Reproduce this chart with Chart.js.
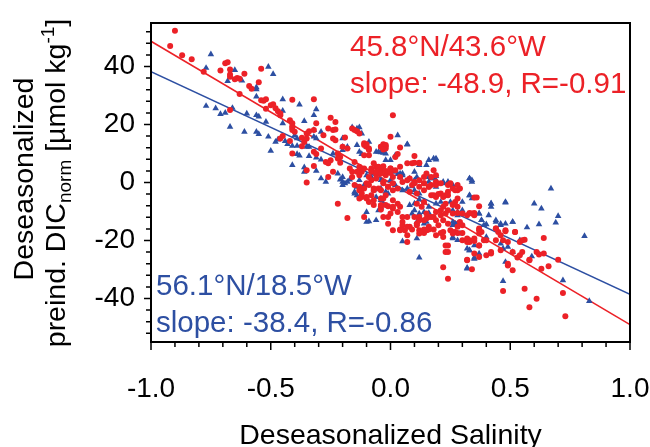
<!DOCTYPE html>
<html>
<head>
<meta charset="utf-8">
<script src="https://cdn.jsdelivr.net/npm/chart.js@4.4.1/dist/chart.umd.min.js"></script>
<style>
  body { margin: 0; background: #fff; overflow: hidden; }
  canvas { display: block; }
</style>
</head>
<body>
<canvas id="salChart" width="650" height="447"></canvas>
<script>
// values: [salinity anomaly, DIC anomaly]
const redPoints = [
  [-0.90,52.3],[-0.92,47.1],[-0.87,43.9],[-0.83,42.5],[-0.78,38.2],[-0.69,41.1],[-0.68,41.5],[-0.71,38.6],
  [-0.67,39.0],[-0.67,37.2],[-0.67,36.5],[-0.64,36.0],[-0.65,35.6],[-0.63,35.8],[-0.61,37.5],[-0.63,30.5],
  [-0.59,33.3],[-0.58,32.3],[-0.54,39.2],[-0.55,34.6],[-0.54,28.4],[-0.53,28.2],[-0.52,28.7],[-0.52,25.4],
  [-0.50,26.6],[-0.49,27.0],[-0.48,25.6],[-0.47,24.6],[-0.46,23.2],[-0.46,23.8],[-0.67,25.0],[-0.41,28.5],
  [-0.42,21.5],[-0.41,20.4],[-0.41,19.4],[-0.41,18.8],[-0.40,17.5],[-0.41,18.1],[-0.45,16.0],[-0.46,15.2],
  [-0.42,14.3],[-0.37,15.4],[-0.36,14.0],[-0.35,16.9],[-0.34,17.7],[-0.35,15.2],[-0.32,28.7],[-0.31,20.4],
  [-0.41,10.0],[-0.37,12.5],[-0.32,10.6],[-0.31,9.8],[-0.32,5.7],
  [0.01,23.2],[-0.25,22.3],[-0.23,20.9],[-0.32,18.1],[-0.28,16.3],[-0.26,18.6],[-0.24,18.1],[-0.23,18.3],
  [-0.24,15.2],[-0.23,14.6],[-0.19,15.5],[-0.16,18.6],[-0.15,18.1],[-0.14,17.7],[-0.13,16.9],[-0.20,12.3],
  [-0.18,11.7],[-0.11,13.5],[-0.10,12.3],[-0.09,11.7],[-0.04,12.3],[-0.03,13.2],[-0.02,11.7],[-0.02,12.5],
  [0.00,15.8],[0.02,8.8],[0.03,9.8],[0.07,6.6],[0.10,6.8],[0.12,6.8],[0.18,4.2],[0.00,4.8],[0.02,4.2],
  [-0.08,4.8],[-0.06,5.4],[-0.13,4.2],[-0.11,4.8],[-0.17,4.8],[-0.24,3.7],[-0.25,7.7],[-0.35,4.2],
  [-0.27,7.1],[-0.26,6.6],[-0.22,10.0],[-0.21,8.8],[-0.29,11.7],[0.10,9.1],
  [-0.35,0.0],[-0.26,1.9],[-0.22,-7.3],[-0.18,-12.2],[-0.16,1.9],[-0.13,2.5],[-0.12,3.7],[-0.09,1.9],
  [-0.08,3.7],[-0.06,2.9],[-0.04,4.2],[-0.02,2.5],[0.00,3.3],[0.01,1.9],
  [-0.15,-0.9],[-0.13,-1.5],[-0.13,-2.7],[-0.11,-2.1],[-0.10,-0.3],[-0.09,-0.9],[-0.07,-2.7],[-0.05,-2.1],
  [-0.03,-0.3],[-0.01,-1.5],[0.01,-2.7],[0.03,-2.1],
  [-0.12,-5.0],[-0.10,-5.5],[-0.08,-4.4],[-0.07,-6.1],[-0.04,-5.5],[-0.02,-4.4],[0.01,-6.1],
  [-0.04,-8.2],[-0.01,-8.2],[0.03,-7.3],[0.04,-8.4],
  [0.05,-11.9],[0.07,-11.9],[0.10,-11.9],[0.12,-11.9],[0.16,-11.9],
  [0.04,-16.2],[0.07,-20.5],[0.08,-15.3],[0.12,-16.5],[0.15,-16.5],[0.16,-15.3],[0.18,-16.2],
  [0.07,0.8],[0.09,-0.9],[0.10,0.2],[0.12,0.8],[0.14,-0.3],[0.16,-1.5],[0.17,-0.9],[0.19,0.2],[0.21,-0.3],
  [0.24,-0.9],[0.26,-2.1],[0.28,-2.7],[0.29,-2.1],
  [0.17,-4.4],[0.19,-5.0],[0.21,-3.8],[0.23,-4.4],[0.24,-3.2],
  [0.11,-7.3],[0.13,-8.4],[0.14,-6.7],
  [0.22,-8.4],[0.24,-9.6],[0.26,-7.5],[0.28,-8.4],[0.27,-6.7],
  [0.21,-9.6],[0.22,-13.0],[0.24,-14.2],[0.25,-16.5],[0.26,-17.6],[0.27,-17.1],[0.28,-17.4],[0.30,-17.4],
  [0.32,-11.3],[0.34,-10.7],[0.35,-10.5],[0.37,-8.2],[0.36,-5.2],[0.29,-13.6],
  [0.22,-18.8],[0.24,-21.7],[0.24,-24.0],[0.22,-29.2],[0.24,-33.2],
  [0.30,-19.9],[0.32,-20.5],[0.33,-19.9],[0.35,-19.3],[0.37,-16.5],[0.38,-17.1],[0.39,-19.9],[0.37,-21.7],
  [0.35,-24.5],[0.32,-26.6],[0.34,-29.9],
  [0.40,-25.1],[0.42,-24.5],
  [0.44,-15.9],[0.45,-17.1],[0.48,-16.8],[0.52,-17.1],
  [0.44,-19.9],[0.46,-23.4],[0.47,-19.9],[0.51,-24.0],[0.55,-24.0],[0.54,-20.5],[0.56,-19.7],
  [0.49,-28.6],[0.51,-30.3],[0.47,-37.4],
  [0.53,-25.9],[0.58,-26.6],[0.61,-24.0],[0.62,-24.8],[0.64,-24.5],[0.64,-19.1],[0.70,-26.6],[0.66,-28.9],
  [0.63,-29.7],
  [0.56,-36.6],[0.61,-40.1],[0.58,-43.0],[0.72,-38.1],[0.73,-46.1],
  [0.11,-14.2],[0.14,-13.0],[-0.11,-11.9],[-0.09,-6.7],[-0.07,-7.8],[-0.04,-9.3],
  [0.00,-10.7],[0.01,-9.0],[-0.03,-11.9],[-0.01,-14.2],[0.05,-14.7],[0.01,-16.5],[0.06,-16.5],[0.09,-16.2],
  [0.07,-18.2],[0.12,-17.6],[0.14,-17.4],[0.19,-18.2],[0.21,-17.4],
  [0.17,-11.9],[0.19,-13.0],[0.26,-10.7],[0.28,-10.5],
  // dense centre, second pass
  [-0.11,12.9],[-0.10,13.2],[-0.04,12.3],[-0.02,12.9],[-0.03,11.4],[0.04,12.1],[-0.11,9.4],[-0.09,11.2],
  [-0.09,9.4],[-0.22,8.3],[-0.21,6.8],[-0.15,7.1],[-0.13,5.4],[-0.16,3.7],[-0.14,3.7],[-0.07,6.6],
  [-0.05,5.4],[-0.03,5.6],[-0.06,3.7],[-0.04,3.1],[-0.02,4.0],[0.00,4.8],[-0.08,0.8],[-0.06,1.4],
  [-0.03,0.2],[-0.07,-2.1],[-0.04,-2.7],[-0.01,-1.5],[0.01,-0.3],[-0.12,-3.8],[-0.10,-5.0],[-0.13,-5.5],
  [-0.03,-5.5],[-0.02,-7.8],[0.01,-8.4],[0.04,1.9],[0.05,0.2],[0.08,1.4],[0.10,-0.3],[0.12,-1.5],
  [0.14,-0.3],[0.08,-3.2],[0.11,-3.8],[0.14,-2.7],[0.16,-1.5],[0.19,-0.9],[0.09,6.6],[0.12,6.6],
  [0.04,5.4],[-0.04,-7.8],[0.03,-10.2],[0.05,-13.6],[0.07,-15.3],[0.04,-16.5],[0.11,-14.7],[0.12,-13.0],
  [0.14,-16.2],[0.16,-16.2],[0.15,-12.4],[0.19,-10.2],[-0.01,-11.9],
  [0.14,1.9],[0.15,3.1],[0.17,1.9],[0.19,2.5],[0.25,-0.3],[0.28,-0.9],[0.27,-2.7],[0.18,-4.4],
  [0.20,-4.0],[0.22,-5.0],[0.24,-4.4],[0.28,-5.5],[0.35,-5.2],[0.23,-7.3],[0.26,-7.8],[0.15,-10.7],
  [0.18,-11.9],[0.21,-11.3],[0.23,-10.7],[0.30,-10.7],[0.33,-10.5],[0.35,-11.3],[0.15,-16.5],[0.20,-14.7],
  [0.22,-17.1],[0.26,-17.1],[0.28,-15.3],[0.30,-14.7],[0.32,-19.3],[0.33,-20.5],[0.35,-20.2],[0.37,-17.6],
  [0.37,-15.9],[0.37,-21.7],[0.40,-19.9],[0.42,-24.0],[0.44,-15.9],[0.46,-18.2],[0.48,-16.5],[0.23,-21.7],
  [0.23,-24.0],[0.32,-26.8],[0.37,-25.7],[0.49,-20.5],[0.52,-17.1],[0.49,-28.0],[0.54,-25.1],[0.55,-19.9],
  [0.58,-26.8]
];

const bluePoints = [
  [-0.75,44.2],[-0.77,39.5],[-0.77,26.4],[-0.73,25.6],[-0.71,23.6],[-0.69,24.0],[-0.68,35.0],[-0.66,25.7],
  [-0.67,19.2],[-0.65,38.8],[-0.62,35.1],[-0.61,17.5],[-0.60,23.8],[-0.56,32.8],[-0.56,32.1],[-0.56,29.6],
  [-0.56,23.2],[-0.55,22.7],[-0.56,17.5],[-0.55,16.7],[-0.52,20.9],[-0.51,39.9],[-0.49,37.4],[-0.51,15.8],
  [-0.50,10.9],[-0.48,14.0],[-0.47,14.8],[-0.45,28.7],[-0.45,24.7],[-0.44,14.3],[-0.43,13.2],[-0.45,20.4],
  [-0.38,26.9],[-0.36,21.2],[-0.40,16.3],[-0.39,15.2],[-0.41,12.6],[-0.39,12.6],[-0.41,6.0],[-0.36,5.2],
  [-0.39,9.8],[-0.38,9.3],[-0.34,9.1],[-0.34,12.3],[-0.31,4.0],[-0.32,18.1],[-0.31,25.2],[-0.31,8.6],
  [-0.32,23.2],[-0.32,15.8],[-0.31,15.2],[-0.29,17.5],[-0.35,12.3],[-0.20,15.2],[-0.18,12.3],[-0.16,19.0],
  [-0.14,18.6],[-0.13,19.0],[-0.12,16.9],[-0.09,14.0],[-0.13,10.6],[-0.12,9.8],[-0.06,10.6],[-0.04,10.4],
  [-0.03,10.2],[-0.02,7.7],[0.03,16.3],[0.07,13.1],[0.12,6.0],[0.15,6.0],[0.18,8.3],[0.19,7.9],[0.04,3.1],
  [0.10,3.7],[0.33,1.4],[-0.20,11.2],[-0.24,10.0],[-0.29,7.9],[-0.36,3.7],
  [-0.29,1.4],[-0.27,0.2],[-0.21,1.0],[-0.20,0.2],[-0.19,-0.3],[-0.20,-0.9],[-0.15,-3.8],[-0.14,-4.4],
  [-0.10,-10.2],[-0.09,-13.4],[-0.05,-9.6],[-0.04,-8.4],[-0.04,-6.1],[-0.03,-7.3],[-0.07,-2.7],[-0.04,-2.1],
  [-0.02,-3.2],[-0.01,-3.8],[0.01,3.7],[0.03,2.9],[0.04,1.9],[0.05,2.5],[0.08,1.4],[0.10,0.2],[0.07,-2.1],
  [0.09,-1.3],[0.10,-2.7],[0.12,-3.8],[0.10,-7.3],[0.12,-5.9],[0.14,-6.7],[0.09,-10.7],[0.11,-13.6],
  [0.14,-14.2],[0.05,-20.3],[0.11,-19.3],[0.12,-25.9],[0.17,1.4],[0.19,0.8],[0.19,2.2],[0.19,-7.3],
  [0.21,-6.7],[0.25,-6.7],[0.22,-0.3],[0.24,0.2],[0.26,-0.9],[0.26,-9.6],[0.28,-11.3],[0.27,-14.2],
  [0.26,-18.8],[0.29,-17.6],[0.34,0.8],[0.33,-4.4],[0.34,-5.5],[0.30,-10.2],[0.32,-22.8],[0.33,-23.4],
  [0.35,-25.9],[0.32,-29.4],[0.37,-10.7],[0.38,-13.0],[0.40,-14.4],[0.42,-7.3],[0.42,-8.4],[0.44,-13.0],
  [0.46,-14.7],[0.48,-6.7],[0.48,-14.2],[0.51,-13.6],[0.48,-27.4],[0.47,-34.0],[0.57,-15.5],[0.60,-7.3],
  [0.62,-14.4],[0.63,-9.0],[0.59,-25.5],[0.67,-2.1],[0.69,-13.8],[0.70,-11.6],[0.72,-33.7],[0.81,-18.5],
  [0.83,-40.9],[0.49,-22.2],[0.40,-18.8],[-0.10,2.5],[-0.08,1.9],[-0.17,1.0],[-0.04,0.8],
  // dense centre, second pass
  [-0.20,12.3],[-0.14,12.9],[-0.10,12.3],[0.07,13.2],[-0.05,10.6],[-0.02,10.0],[0.02,9.4],[-0.22,3.1],
  [-0.20,1.9],[-0.18,0.2],[-0.13,0.8],[-0.11,-0.9],[0.00,7.7],[0.05,3.1],[0.00,0.8],[0.02,-0.9],
  [0.05,-2.7],[0.10,0.8],[0.11,1.9],[0.16,0.2],[0.18,1.4],[-0.15,-3.2],[-0.14,-1.5],[-0.06,-5.0],
  [-0.04,-5.5],[0.08,-7.8],[0.10,-9.6],[0.12,-10.7],[-0.10,-13.6],[-0.06,-13.0],[0.16,7.7],[0.19,8.3],
  [0.16,-8.4],
  [0.16,1.9],[0.22,0.2],[0.33,1.4],[0.34,0.2],[0.19,-1.5],[0.30,-6.7],[0.33,-4.4],[0.42,-7.3],[0.48,-6.9],
  [0.14,-10.2],[0.16,-10.5],[0.15,-13.6],[0.28,-10.2],[0.30,-9.6],[0.37,-10.7],[0.41,-11.3],[0.26,-13.6],
  [0.26,-14.7],[0.28,-14.2],[0.38,-13.0],[0.39,-14.7],[0.44,-13.6],[0.46,-14.2],[0.51,-13.6],[0.26,-19.3],
  [0.28,-19.9],[0.33,-23.4],[0.35,-21.7],[0.37,-24.5],[0.46,-21.1],[0.47,-22.8],[0.54,-19.9],[0.51,-24.0],
  [0.32,-29.7],[0.35,-26.3]
];

// regression line end points
const redFit = [[-1, 48.7], [1, -49.0]];
const blueFit = [[-1, 38.2], [1, -38.6]];

const xTicks = [-1, -0.5, 0, 0.5, 1];
const yTicks = [-40, -20, 0, 20, 40];

const redLabel = ['45.8°N/43.6°W', 'slope: -48.9, R=-0.91'];
const blueLabel = ['56.1°N/18.5°W', 'slope: -38.4, R=-0.86'];

const RED = '#EC2127';
const BLUE = '#2D4FA2';
const FONT = '"Liberation Sans", Arial, sans-serif';

const toXY = (arr) => arr.map(p => ({ x: p[0], y: p[1] }));

const decor = {
  id: 'decor',
  afterDraw(chart) {
    const ctx = chart.ctx;
    const a = chart.chartArea;
    const x = chart.scales.x, y = chart.scales.y;
    ctx.save();
    ctx.strokeStyle = '#000';
    ctx.lineWidth = 1.5;
    ctx.beginPath();
    // x ticks, minor every 0.1
    for (let i = -10; i <= 10; i++) {
      const px = x.getPixelForValue(i / 10);
      const len = i % 5 === 0 ? 8 : 5;
      ctx.moveTo(px, a.bottom);
      ctx.lineTo(px, a.bottom + len);
    }
    // y ticks, minor every 4
    for (let v = -52; v <= 52; v += 4) {
      const py = y.getPixelForValue(v);
      const len = v % 20 === 0 ? 7 : 5;
      ctx.moveTo(a.left, py);
      ctx.lineTo(a.left - len, py);
    }
    ctx.stroke();

    // frame
    ctx.lineWidth = 2;
    ctx.strokeRect(a.left, a.top, a.right - a.left, a.bottom - a.top);

    // x title
    ctx.fillStyle = '#000';
    ctx.font = '28.5px ' + FONT;
    ctx.textAlign = 'center';
    ctx.textBaseline = 'alphabetic';
    ctx.fillText('Deseasonalized Salinity', (a.left + a.right) / 2, 444);

    // y title, two rotated lines
    ctx.save();
    ctx.translate(33, 179);
    ctx.rotate(-Math.PI / 2);
    ctx.fillText('Deseasonalized', 0, 0);
    ctx.restore();

    const big = '28.5px ' + FONT, small = '19px ' + FONT;
    const parts = [
      ['preind. DIC', big, 0],
      ['norm', small, 6],
      [' [\u00b5mol kg', big, 0],
      ['-1', small, -11],
      [']', big, 0]
    ];
    let total = 0;
    parts.forEach(p => { ctx.font = p[1]; total += ctx.measureText(p[0]).width; });
    ctx.save();
    ctx.translate(65, 183);
    ctx.rotate(-Math.PI / 2);
    ctx.textAlign = 'left';
    let cx = -total / 2;
    parts.forEach(p => {
      ctx.font = p[1];
      ctx.fillText(p[0], cx, p[2]);
      cx += ctx.measureText(p[0]).width;
    });
    ctx.restore();

    // annotations
    ctx.textAlign = 'left';
    ctx.font = '29.5px ' + FONT;
    ctx.fillStyle = RED;
    ctx.fillText(redLabel[0], 350, 56);
    ctx.fillText(redLabel[1], 350, 93);
    ctx.fillStyle = BLUE;
    ctx.fillText(blueLabel[0], 156, 295);
    ctx.fillText(blueLabel[1], 156, 332);
    ctx.restore();
  }
};

const ctx = document.getElementById('salChart').getContext('2d');

new Chart(ctx, {
  type: 'scatter',
  data: {
    datasets: [
      {
        label: '45.8N', data: toXY(redPoints), pointStyle: 'circle', pointRadius: 3,
        backgroundColor: RED, borderColor: RED, borderWidth: 0, order: 1
      },
      {
        label: '56.1N', data: toXY(bluePoints), pointStyle: 'triangle', pointRadius: 3.8,
        backgroundColor: BLUE, borderColor: BLUE, borderWidth: 0, order: 2
      },
      {
        label: 'red fit', data: toXY(redFit), showLine: true, borderColor: RED,
        borderWidth: 1.5, pointRadius: 0, order: 3
      },
      {
        label: 'blue fit', data: toXY(blueFit), showLine: true, borderColor: BLUE,
        borderWidth: 1.5, pointRadius: 0, order: 3
      }
    ]
  },
  options: {
    responsive: false,
    animation: false,
    events: [],
    layout: { padding: { top: 23, right: 20, left: 0, bottom: 0 } },
    plugins: { legend: { display: false }, tooltip: { enabled: false } },
    scales: {
      x: {
        type: 'linear', min: -1, max: 1,
        grid: { display: false },
        border: { display: false },
        afterBuildTicks: (s) => { s.ticks = xTicks.map(v => ({ value: v })); },
        afterFit: (s) => { s.height = 105; s.paddingLeft = 0; s.paddingRight = 0; },
        ticks: {
          color: '#000', font: { size: 28, family: FONT }, padding: 22,
          maxRotation: 0, autoSkip: false,
          callback: (v) => Number(v).toFixed(1)
        }
      },
      y: {
        type: 'linear', min: -55, max: 55,
        grid: { display: false },
        border: { display: false },
        afterBuildTicks: (s) => { s.ticks = yTicks.map(v => ({ value: v })); },
        afterFit: (s) => { s.width = 151; s.paddingTop = 0; s.paddingBottom = 0; },
        ticks: {
          color: '#000', font: { size: 28, family: FONT }, padding: 8,
          callback: (v) => String(v)
        }
      }
    }
  },
  plugins: [decor]
});
</script>
</body>
</html>
